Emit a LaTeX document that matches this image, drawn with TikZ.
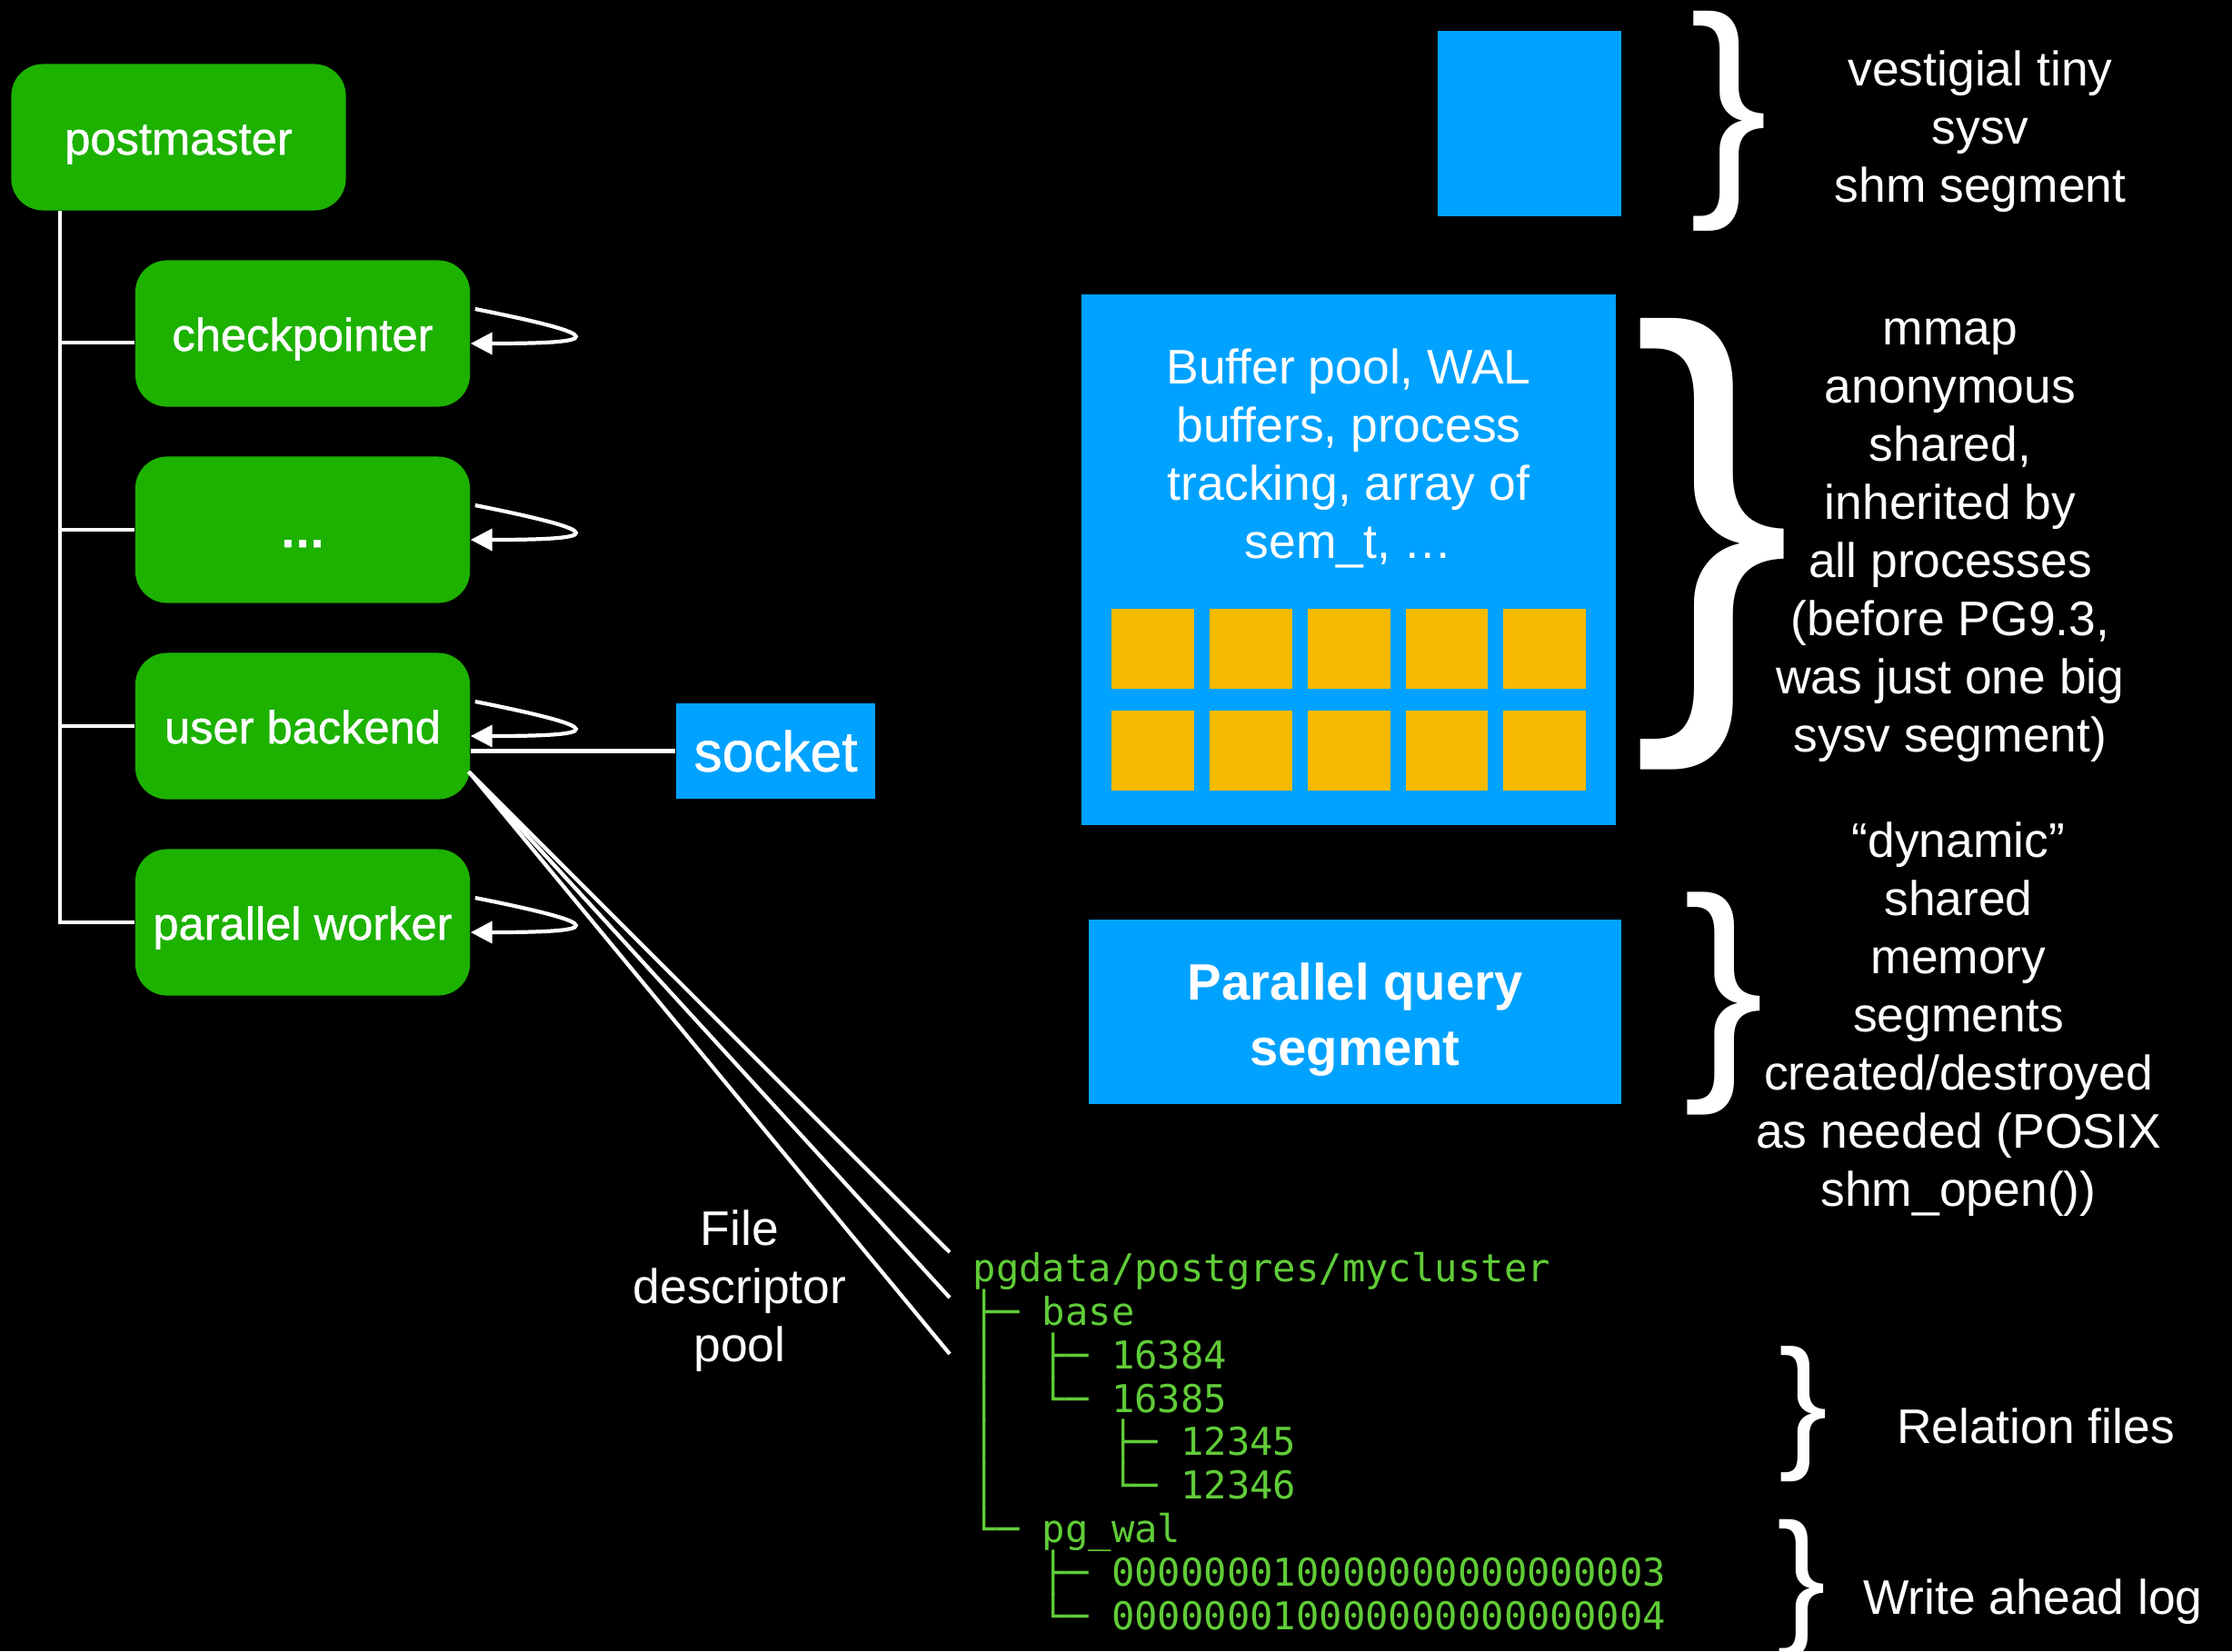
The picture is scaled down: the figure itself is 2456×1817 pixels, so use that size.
\documentclass[tikz,border=0pt]{standalone}
\usepackage{fontspec}
\setmainfont{Liberation Sans}
\newfontfamily\medfont[FakeBold=1]{Liberation Sans}
\newfontfamily\treefont{DejaVu Sans Mono}
\usetikzlibrary{arrows.meta,calc}
\definecolor{procgreen}{RGB}{29,177,0}
\definecolor{shmblue}{RGB}{0,162,255}
\definecolor{bufyellow}{RGB}{248,186,0}
\definecolor{termgreen}{RGB}{96,204,56}
\begin{document}
\begin{tikzpicture}[x=0.01cm,y=-0.01cm,
  proc/.style={fill=procgreen, rounded corners=0.35cm, minimum width=3.68cm, minimum height=1.61cm, inner sep=0, text=white, text height=10.8pt, text depth=0pt, font=\medfont\fontsize{14.4}{17}\selectfont},
  link/.style={draw=white, line width=1.2pt},
  selfloop/.style={link, -{Triangle[length=6.8pt,width=6.8pt]}},
  seg/.style={fill=shmblue, inner sep=0},
  buf/.style={fill=bufyellow, minimum width=0.9cm, minimum height=0.877cm, inner sep=0},
  note/.style={text=white, align=center, inner sep=0, font=\fontsize{15.2}{18.2}\selectfont},
  tree/.style={text=termgreen, inner sep=0, anchor=base west, font=\treefont\fontsize{12}{13.6}\selectfont},
  brace/.style={text=white, inner sep=0}]
\useasboundingbox (0,0) rectangle (2456,1817);
\fill[black] (0,0) rectangle (2456,1817);

% processes
\node[proc] (pm) at (196.5,151) {postmaster};
\node[proc] (cp) at (333,367) {checkpointer};
\node[proc] (dots) at (333,583) {\bfseries …};
\node[proc] (ub) at (333,799) {user backend};
\node[proc] (pw) at (333,1015) {parallel worker};

\coordinate (tk) at (66,0);
\draw[link] (tk |- pm.south) |- (pw.west);
\draw[link] ($(tk |- cp.west)+(0,10)$) -- ($(cp.west)+(0,10)$);
\draw[link] (tk |- dots.west) -- (dots.west);
\draw[link] (tk |- ub.west) -- (ub.west);

\foreach \n in {cp,dots,ub,pw}
  \draw[selfloop] ($(\n.east)+(5,-27)$) .. controls ($(\n.east)+(155,3)$) and ($(\n.east)+(145,11)$) .. ($(\n.east)+(0,11)$);

% socket
\node[seg, minimum width=2.19cm, minimum height=1.05cm, text=white, font=\medfont\fontsize{17.7}{20}\selectfont] (sock) at (853.5,826.5) {socket};
\draw[link] (sock.west) -- (sock.west -| ub.east);

% file descriptors
\coordinate (fdo) at ($(ub.south east)+(-2,-31)$);
\coordinate (fd1) at (1045,1378);
\coordinate (fd2) at (1045,1428);
\coordinate (fd3) at (1045,1490);
\draw[link] (fdo) -- (fd1);
\draw[link] (fdo) -- (fd2);
\draw[link] (fdo) -- (fd3);
\node[note] (fdp) at (814,1420.5) {File\\descriptor\\pool};

% shared memory
\node[seg, minimum width=2.02cm, minimum height=2.04cm] (tiny) at (1683,136) {};
\node[seg, minimum width=5.88cm, minimum height=5.84cm] (main) at (1484,616) {};
\node[note] (maintext) at (1484,504) {Buffer pool, WAL\\buffers, process\\tracking, array of\\sem\_t, …};
\foreach \c [count=\i] in {1268.5,1376.5,1484.5,1592,1699.5} {
  \node[buf] (bufa\i) at (\c,714) {};
  \node[buf] (bufb\i) at (\c,826) {};
}
\node[seg, minimum width=5.86cm, minimum height=2.03cm] (pq) at (1491,1113.5) {};
\node[text=white, align=center, inner sep=0, font=\bfseries\fontsize{16}{20.4}\selectfont] (pqtext) at (1491,1122) {Parallel query\\segment};

% braces
\node[brace] (br1) at (1902.5,133) {\resizebox*{0.86cm}{2.42cm}{\}}};
\node[brace] (br2) at (1884.5,599) {\resizebox*{1.76cm}{4.96cm}{\}}};
\node[brace] (br3) at (1897.5,1104.5) {\resizebox*{0.89cm}{2.45cm}{\}}};
\node[brace] (br4) at (1984.5,1556.5) {\resizebox*{0.54cm}{1.49cm}{\}}};
\node[brace] (br5) at (1982.5,1748) {\resizebox*{0.54cm}{1.52cm}{\}}};

% notes
\node[note] (n1) at (2179,144.5) {vestigial tiny\\sysv\\shm segment};
\node[note] (n2) at (2146,595) {mmap\\anonymous\\shared,\\inherited by\\all processes\\(before PG9.3,\\was just one big\\sysv segment)};
\node[note] (n3) at (2155,1122) {“dynamic”\\shared\\memory\\segments\\created/destroyed\\as needed (POSIX\\shm\_open())};
\node[note] (n4) at (2240,1569) {Relation files};
\node[note] (n5) at (2237,1763) {Write ahead log};

% directory tree
\node[tree] (t1) at (1070,1410.7) {pgdata/postgres/mycluster};
\node[tree] (t2) at (1070,1458.5) {├─~base};
\node[tree] (t3) at (1070,1506.3) {│~~├─~16384};
\node[tree] (t4) at (1070,1554.1) {│~~└─~16385};
\node[tree] (t5) at (1070,1601.9) {│~~~~~├─~12345};
\node[tree] (t6) at (1070,1649.7) {│~~~~~└─~12346};
\node[tree] (t7) at (1070,1697.5) {└─~pg\_wal};
\node[tree] (t8) at (1070,1745.3) {~~~├─~000000010000000000000003};
\node[tree] (t9) at (1070,1793.1) {~~~└─~000000010000000000000004};
\end{tikzpicture}
\end{document}
